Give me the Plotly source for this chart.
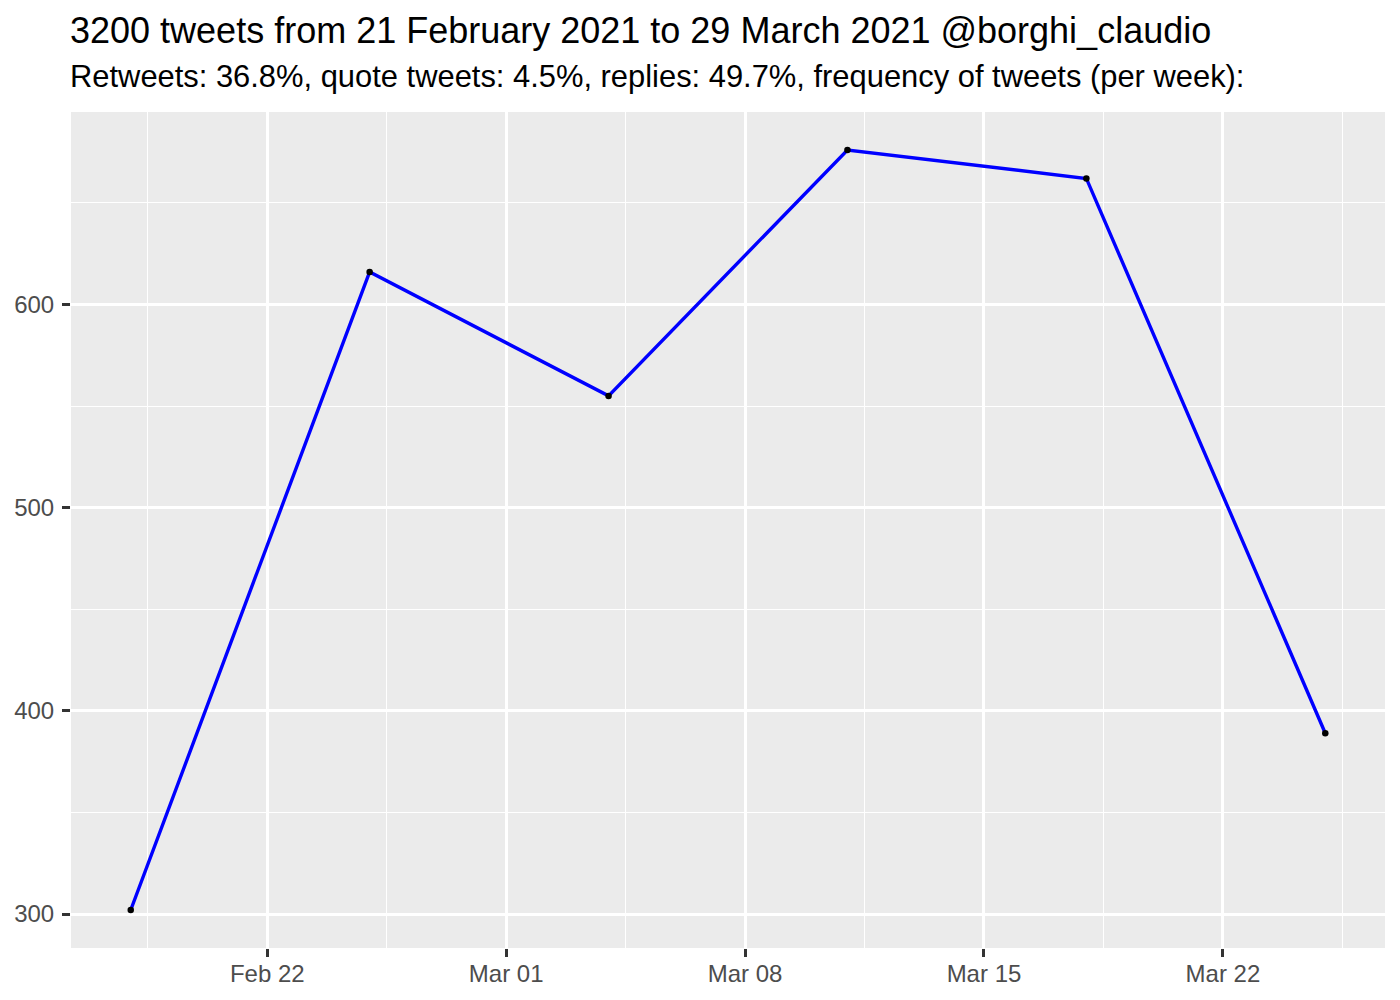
import plotly.graph_objects as go

weeks = ["2021-02-18", "2021-02-25", "2021-03-04", "2021-03-11", "2021-03-18", "2021-03-25"]
tweets = [302, 616, 555, 676, 662, 389]
y_ticks = [300, 400, 500, 600]
x_ticks = ["2021-02-22", "2021-03-01", "2021-03-08", "2021-03-15", "2021-03-22"]
x_tick_labels = ["Feb 22", "Mar 01", "Mar 08", "Mar 15", "Mar 22"]
x_minor = ["2021-02-18 12:00", "2021-02-25 12:00", "2021-03-04 12:00",
           "2021-03-11 12:00", "2021-03-18 12:00", "2021-03-25 12:00"]
y_minor = [350, 450, 550, 650]

title = "3200 tweets from 21 February 2021 to 29 March 2021 @borghi_claudio"
subtitle = "Retweets: 36.8%, quote tweets: 4.5%, replies: 49.7%, frequency of tweets (per week):"

# page has an 8px body margin; figure coordinates are offset by it
OFF = 8
W, H = 1392, 992
ml, mr, mt, mb = 63, 15, 103.5, 52
ph = H - mt - mb

def py(page_px):
    return (H - mb - (page_px - OFF)) / ph

fig = go.Figure()
fig.add_trace(go.Scatter(x=weeks, y=tweets, mode="lines",
                         line=dict(color="#0000FF", width=3.4), hoverinfo="skip"))
fig.add_trace(go.Scatter(x=weeks, y=tweets, mode="markers",
                         marker=dict(color="black", size=6.5)))

fig.update_layout(
    width=W, height=H,
    margin=dict(l=ml, r=mr, t=mt, b=mb, autoexpand=False),
    paper_bgcolor="white", plot_bgcolor="#EBEBEB",
    showlegend=False,
    font=dict(family="Liberation Sans, Arial, sans-serif"),
    annotations=[
        dict(text=title, xref="paper", yref="paper", x=0, y=py(30), xshift=-3,
             xanchor="left", yanchor="middle", showarrow=False,
             font=dict(size=36, color="black")),
        dict(text=subtitle, xref="paper", yref="paper", x=0, y=py(75.5), xshift=-3,
             xanchor="left", yanchor="middle", showarrow=False,
             font=dict(size=30.9, color="black")),
    ],
)

fig.update_xaxes(
    type="date",
    range=["2021-02-16 06:00", "2021-03-26 18:00"],
    tickmode="array", tickvals=x_ticks, ticktext=x_tick_labels,
    ticks="outside", ticklen=8, tickwidth=2.9, tickcolor="#333333",
    tickfont=dict(size=24, color="#4D4D4D"), ticklabelstandoff=-4,
    showgrid=True, gridcolor="white", gridwidth=2.9,
    minor=dict(tickmode="array", tickvals=x_minor, showgrid=True,
               gridcolor="white", gridwidth=1.45, ticks=""),
    zeroline=False, showline=False, automargin=False,
)
fig.update_yaxes(
    range=[283.3, 694.7],
    tickmode="array", tickvals=y_ticks,
    ticks="outside", ticklen=8, tickwidth=2.9, tickcolor="#333333",
    tickfont=dict(size=24, color="#4D4D4D"), ticklabelstandoff=3,
    showgrid=True, gridcolor="white", gridwidth=2.9,
    minor=dict(tickmode="array", tickvals=y_minor, showgrid=True,
               gridcolor="white", gridwidth=1.45, ticks=""),
    zeroline=False, showline=False, automargin=False,
)

fig.write_html("out.html")
